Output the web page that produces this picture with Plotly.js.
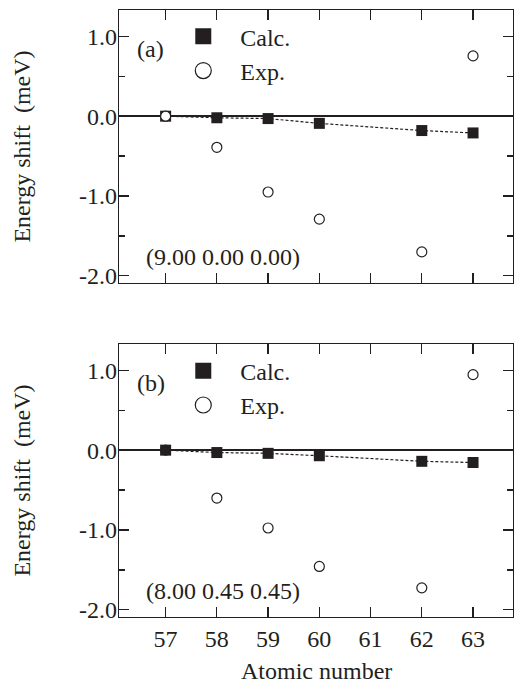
<!DOCTYPE html>
<html>
<head>
<meta charset="utf-8">
<script src="https://cdn.plot.ly/plotly-3.0.1.min.js"></script>
<style>
html,body{margin:0;padding:0;background:#fff;}
#chart{width:514px;height:683px;}
</style>
</head>
<body>
<div id="chart"></div>
<script>
const atomicNumbers = [57, 58, 59, 60, 62, 63];
const calcA = [0, -0.02, -0.03, -0.09, -0.18, -0.21];
const expA = [0, -0.39, -0.95, -1.29, -1.70, 0.755];
const calcB = [0, -0.03, -0.04, -0.07, -0.14, -0.155];
const expB = [0, -0.60, -0.975, -1.457, -1.725, 0.946];
const xTickVals = [57, 58, 59, 60, 61, 62, 63];
const yTickVals = [-2, -1, 0, 1];
const yTickText = ['-2.0', '-1.0', '0.0', '1.0'];
const seriesNames = ['Calc.', 'Exp.'];
const panelLabels = ['(a)', '(b)'];
const paramLabels = ['(9.00 0.00 0.00)', '(8.00 0.45 0.45)'];
const xTitle = 'Atomic number';
const yTitle = 'Energy shift\u00a0\u00a0(meV)';

const ink = '#231f20';
function mkFont() { return {family: 'Liberation Serif', size: 24, color: ink}; }

function calcTrace(y, xa, ya) {
  return {x: atomicNumbers, y: y, xaxis: xa, yaxis: ya, type: 'scatter', mode: 'lines+markers',
    line: {color: ink, width: 1.2, dash: '3px,2px'},
    marker: {symbol: 'square', size: 11, color: ink, line: {width: 0}},
    showlegend: false, hoverinfo: 'skip'};
}
function expTrace(y, xa, ya) {
  return {x: atomicNumbers, y: y, xaxis: xa, yaxis: ya, type: 'scatter', mode: 'markers',
    marker: {symbol: 'circle', size: 10, color: '#fff', line: {width: 1.2, color: ink}},
    showlegend: false, hoverinfo: 'skip'};
}
function legendTraces(xa, ya, lg) {
  return [
    {x: [null], y: [null], xaxis: xa, yaxis: ya, type: 'scatter', mode: 'markers', name: seriesNames[0], legend: lg,
      marker: {symbol: 'square', size: 17, color: ink, line: {width: 0}}},
    {x: [null], y: [null], xaxis: xa, yaxis: ya, type: 'scatter', mode: 'markers', name: seriesNames[1], legend: lg,
      marker: {symbol: 'circle', size: 16, color: '#fff', line: {width: 1.2, color: ink}}}
  ];
}

const data = [
  calcTrace(calcA, 'x', 'y'), expTrace(expA, 'x', 'y'),
  expTrace(expB, 'x2', 'y2'), calcTrace(calcB, 'x2', 'y2'),
  ...legendTraces('x', 'y', 'legend'), ...legendTraces('x2', 'y2', 'legend2')
];

function xAxis(showLabels, anchor) {
  return {range: [56.09, 63.78], tickvals: xTickVals, ticks: 'inside', ticklen: 10, tickwidth: 1.2, tickcolor: ink,
    showline: true, linecolor: ink, linewidth: 1.2, mirror: 'ticks', showgrid: false, zeroline: false,
    showticklabels: showLabels, tickfont: mkFont(), anchor: anchor, ticklabelstandoff: 0};
}
function yAxis(domain, anchor) {
  return {domain: domain, range: [-2.09, 1.33], tickvals: yTickVals, ticktext: yTickText, ticks: 'inside', ticklen: 10,
    tickwidth: 1.2, tickcolor: ink, showline: true, linecolor: ink, linewidth: 1.2, mirror: 'ticks', showgrid: false,
    minor: {dtick: 0.5, tick0: 0, ticks: 'inside', ticklen: 6, tickwidth: 1.2, tickcolor: ink, showgrid: false},
    zeroline: true, zerolinecolor: ink, zerolinewidth: 1.5, tickfont: mkFont(), anchor: anchor, ticklabelstandoff: -4,
    title: {text: yTitle, font: mkFont(), standoff: 41}};
}

function annots(xref, yref, i) {
  return [
    {xref: xref, yref: yref, x: 0.04, y: 0.857, xanchor: 'left', yanchor: 'middle', text: panelLabels[i], showarrow: false, font: mkFont()},
    {xref: xref, yref: yref, x: 0.063, y: 0.097, xanchor: 'left', yanchor: 'middle', text: paramLabels[i], showarrow: false, font: mkFont()}
  ];
}

function mkLegend(x, y) {
  return {xref: 'paper', yref: 'paper', x: x, y: y, xanchor: 'left', yanchor: 'top', font: mkFont(),
    bgcolor: 'rgba(0,0,0,0)', borderwidth: 0, itemwidth: 64, tracegroupgap: 0};
}

const layout = {
  width: 514, height: 683,
  margin: {l: 119, r: 1, t: 10, b: 66},
  paper_bgcolor: '#fff', plot_bgcolor: '#fff',
  font: mkFont(),
  xaxis: xAxis(false, 'y'),
  yaxis: yAxis([0.5502, 1], 'x'),
  xaxis2: xAxis(true, 'y2'),
  yaxis2: yAxis([0, 0.4498], 'x2'),
  legend: mkLegend(0.12, 0.993),
  legend2: mkLegend(0.12, 0.442),
  annotations: [...annots('x domain', 'y domain', 0), ...annots('x2 domain', 'y2 domain', 1),
    {xref: 'x2 domain', yref: 'paper', x: 0.5, y: 0, xanchor: 'center', yanchor: 'middle', yshift: -54,
      text: xTitle, showarrow: false, font: mkFont()}],
  showlegend: true
};

Plotly.newPlot('chart', data, layout, {staticPlot: true, displayModeBar: false});
</script>
</body>
</html>
